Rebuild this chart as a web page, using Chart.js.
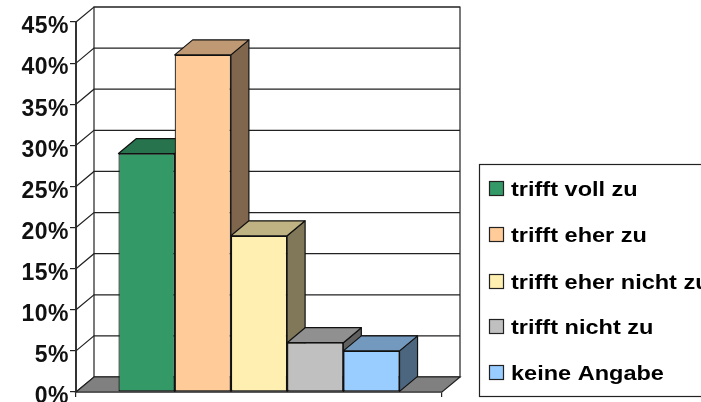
<!DOCTYPE html>
<html>
<head>
<meta charset="utf-8">
<title>Chart</title>
<script src="https://cdn.jsdelivr.net/npm/chart.js@4"></script>
<style>
	body { margin: 0; background: #fff; overflow: hidden; }
	canvas { display: block; }
</style>
</head>
<body>
<canvas id="myChart" width="701" height="402"></canvas>
<script>
const categories = ["trifft voll zu", "trifft eher zu", "trifft eher nicht zu", "trifft nicht zu", "keine Angabe"];
const values = [29, 41, 19, 6, 5];
const colors = ["#339966", "#FFCC99", "#FFEFB0", "#C0C0C0", "#99CCFF"];
const yTicks = [0, 5, 10, 15, 20, 25, 30, 35, 40, 45];

// depth of the fake 3d box
const DX = 18;
const DY = -15;
const LINE = "#222";

function shade(hex, f) {
	const n = parseInt(hex.slice(1), 16);
	const r = Math.round(((n >> 16) & 255) * f);
	const g = Math.round(((n >> 8) & 255) * f);
	const b = Math.round((n & 255) * f);
	return `rgb(${r},${g},${b})`;
}

function poly(ctx, pts, fill) {
	ctx.beginPath();
	pts.forEach((p, i) => (i ? ctx.lineTo(p[0], p[1]) : ctx.moveTo(p[0], p[1])));
	ctx.closePath();
	if (fill) {
		ctx.fillStyle = fill;
		ctx.fill();
	}
	ctx.stroke();
}

const box3d = {
	id: "box3d",
	beforeDraw(chart) {
		chart.ctx.letterSpacing = "0.5px";
	},
	beforeDatasetsDraw(chart) {
		const { ctx, chartArea: a, scales } = chart;
		ctx.save();
		ctx.strokeStyle = LINE;
		ctx.lineWidth = 1.2;

		// back wall and its grid
		poly(ctx, [[a.left + DX, a.top + DY], [a.right + DX, a.top + DY], [a.right + DX, a.bottom + DY], [a.left + DX, a.bottom + DY]], "#fff");
		yTicks.forEach((v) => {
			const y = scales.y.getPixelForValue(v);
			ctx.beginPath();
			ctx.moveTo(a.left, y);
			ctx.lineTo(a.left + DX, y + DY);
			ctx.lineTo(a.right + DX, y + DY);
			ctx.stroke();
		});

		// floor
		poly(ctx, [[a.left, a.bottom], [a.left + DX, a.bottom + DY], [a.right + DX, a.bottom + DY], [a.right, a.bottom]], "#808080");

		// sides and tops of the bars, left to right, the fronts come after
		ctx.strokeStyle = "#111";
		ctx.lineJoin = "round";
		categories.forEach((name, i) => {
			const p = chart.getDatasetMeta(i).data[0].getProps(["x", "y", "base", "width"], true);
			const l = p.x - p.width / 2;
			const r = p.x + p.width / 2;
			poly(ctx, [[r, p.y], [r + DX, p.y + DY], [r + DX, p.base + DY], [r, p.base]], shade(colors[i], 0.5));
			poly(ctx, [[l, p.y], [l + DX, p.y + DY], [r + DX, p.y + DY], [r, p.y]], shade(colors[i], 0.75));
		});
		ctx.restore();
	},
	afterDraw(chart) {
		const ctx = chart.ctx;
		ctx.save();
		ctx.strokeStyle = "#222";
		ctx.lineWidth = 1.2;
		ctx.fillStyle = "#fff";
		ctx.fillRect(479.5, 164.5, 240, 232);
		ctx.strokeRect(479.5, 164.5, 240, 232);
		const rows = [189, 235, 282, 327, 373];
		ctx.letterSpacing = "0px";
		ctx.font = "bold 21px 'Liberation Sans'";
		ctx.textBaseline = "middle";
		categories.forEach((name, i) => {
			ctx.fillStyle = colors[i];
			ctx.fillRect(489.5, rows[i] - 7.5, 14, 14);
			ctx.strokeRect(489.5, rows[i] - 7.5, 14, 14);
			ctx.save();
			ctx.translate(511, rows[i] + 1);
			ctx.scale(1.12, 1);
			ctx.fillStyle = "#000";
			ctx.fillText(name, 0, 0);
			ctx.restore();
		});
		ctx.restore();
	},
};

new Chart(document.getElementById("myChart").getContext("2d"), {
	type: "bar",
	data: {
		labels: [""],
		datasets: categories.map((name, i) => ({
			label: name,
			data: [values[i]],
			backgroundColor: colors[i],
			borderColor: "#111",
			borderWidth: 1.2,
			borderSkipped: false,
		})),
	},
	options: {
		responsive: false,
		devicePixelRatio: 1,
		animation: false,
		categoryPercentage: 0.768,
		barPercentage: 1,
		layout: { padding: { left: 0, right: 259, top: 22, bottom: 0 } },
		plugins: { legend: { display: false }, tooltip: { enabled: false } },
		scales: {
			x: {
				afterFit(scale) {
					scale.height = 10;
				},
				grid: { offset: true, drawOnChartArea: false, tickLength: 5, color: "#222", lineWidth: 1.2 },
				border: { color: "#333", width: 1.5 },
				ticks: { display: false },
			},
			y: {
				min: 0,
				max: 45,
				afterFit(scale) {
					scale.width = 76;
					scale.paddingTop = 0;
					scale.paddingBottom = 0;
				},
				afterBuildTicks(scale) {
					scale.ticks = yTicks.map((v) => ({ value: v }));
				},
				grid: { drawOnChartArea: false, tickLength: 6, color: "#222", lineWidth: 1.2 },
				border: { color: "#333", width: 2 },
				ticks: {
					color: "#111",
					padding: 1,
					labelOffset: 5,
					font: { family: "'Liberation Sans'", weight: "bold", size: 23 },
					callback: (v) => v + "%",
				},
			},
		},
	},
	plugins: [box3d],
});
</script>
</body>
</html>
